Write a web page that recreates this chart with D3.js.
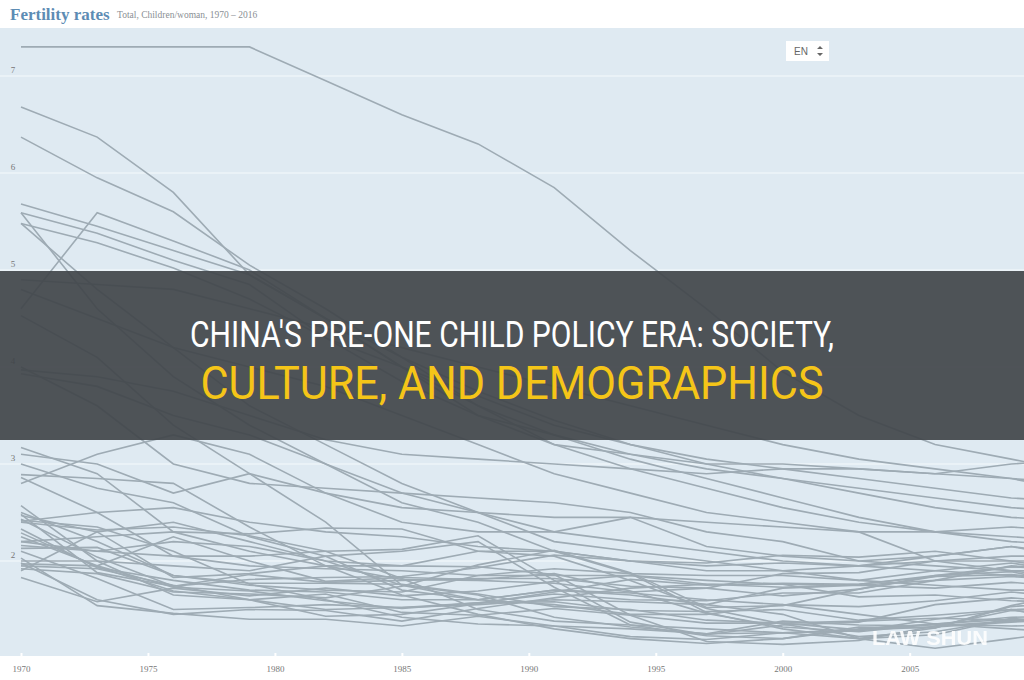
<!DOCTYPE html>
<meta charset="utf-8">
<style>
    body {
        margin: 0;
        background: #fff;
    }

    svg {
        display: block;
    }
</style>
<svg width="1024" height="680"></svg>
<script src="https://d3js.org/d3.v7.min.js"></script>
<script>
    // grid years every 3 years, 1970 -> 2012
    var years = [1970, 1973, 1976, 1979, 1982, 1985, 1988, 1991, 1994, 1997, 2000, 2003, 2006, 2009, 2012];

    var yTicks = [2, 3, 4, 5, 6, 7];
    var xTicks = [1970, 1975, 1980, 1985, 1990, 1995, 2000, 2005];

    // one row per country, children per woman at each grid year
    var s01 = [7.3, 7.3, 7.3, 7.3, 6.95, 6.6, 6.3, 5.85, 5.2, 4.6, 3.95, 3.5, 3.2, 3.05, 2.9];
    var s02 = [6.68, 6.37, 5.8, 4.95, 4.5, 4.0, 3.6, 3.3, 3.05, 2.85, 2.65, 2.45, 2.3, 2.25, 2.2];
    var s03 = [6.37, 5.95, 5.6, 5.05, 4.6, 4.1, 3.6, 3.2, 2.95, 2.75, 2.55, 2.4, 2.3, 2.2, 2.15];
    var s04 = [5.68, 5.45, 5.2, 4.95, 4.5, 4.1, 3.75, 3.45, 3.2, 3.0, 2.85, 2.7, 2.55, 2.45, 2.4];
    var s05 = [5.59, 5.38, 5.1, 4.85, 4.3, 3.85, 3.5, 3.3, 3.1, 3.0, 3.0, 2.95, 2.9, 2.85, 2.8];
    var s06 = [5.48, 5.28, 5.02, 4.7, 4.3, 4.0, 3.7, 3.4, 3.2, 3.05, 2.95, 2.85, 2.75, 2.65, 2.6];
    var s07 = [4.6, 5.59, 5.3, 5.0, 4.5, 4.0, 3.5, 3.2, 3.1, 2.95, 2.85, 2.75, 2.65, 2.55, 2.5];
    var s08 = [5.59, 4.6, 3.9, 3.4, 3.0, 2.7, 2.5, 2.3, 2.2, 2.1, 2.0, 1.95, 1.9, 1.85, 1.8];
    var s09 = [5.48, 4.8, 4.2, 3.6, 3.2, 2.8, 2.5, 2.2, 2.1, 2.0, 1.9, 1.8, 1.75, 1.7, 1.7];
    var s10 = [4.53, 4.1, 3.4, 2.9, 2.4, 1.75, 1.6, 1.7, 1.65, 1.55, 1.45, 1.2, 1.1, 1.2, 1.3];
    var s11 = [3.97, 3.9, 3.75, 3.5, 3.25, 3.1, 3.05, 3.0, 2.95, 2.9, 2.95, 2.95, 2.9, 3.0, 3.05];
    var s12 = [3.93, 3.8, 3.5, 3.3, 3.0, 2.6, 2.4, 2.1, 2.0, 1.9, 1.9, 1.95, 2.0, 2.05, 2.05];
    var s13 = [4.0, 3.6, 3.0, 2.8, 2.75, 2.7, 2.65, 2.6, 2.5, 2.3, 2.2, 2.0, 1.95, 1.9, 1.9];
    var s14 = [3.17, 2.9, 2.3, 2.1, 1.95, 1.95, 2.1, 2.1, 2.0, 1.95, 1.98, 1.95, 2.05, 2.15, 2.05];
    var s15 = [3.0, 2.75, 2.6, 2.25, 2.05, 1.7, 1.6, 1.55, 1.45, 1.45, 1.55, 1.45, 1.35, 1.3, 1.25];
    var s16 = [2.89, 2.85, 2.8, 2.35, 1.95, 1.65, 1.45, 1.3, 1.2, 1.15, 1.2, 1.3, 1.35, 1.4, 1.3];
    var s17 = [2.8, 3.1, 3.3, 3.1, 2.7, 2.4, 2.3, 2.3, 2.45, 2.15, 2.05, 2.0, 2.05, 2.15, 2.0];
    var s18 = [2.86, 2.5, 2.05, 1.95, 1.92, 1.9, 1.85, 1.85, 1.85, 1.8, 1.76, 1.75, 1.8, 1.95, 1.9];
    var s19 = [2.57, 2.0, 1.65, 1.6, 1.5, 1.52, 1.55, 1.6, 1.58, 1.55, 1.72, 1.75, 1.72, 1.78, 1.72];
    var s20 = [2.5, 2.2, 1.85, 1.75, 1.7, 1.68, 1.85, 1.92, 1.87, 1.85, 1.85, 1.8, 1.9, 1.98, 1.85];
    var s21 = [2.48, 1.88, 1.74, 1.81, 1.83, 1.84, 1.93, 2.06, 2.0, 1.98, 2.06, 2.04, 2.1, 2.0, 1.88];
    var s22 = [2.47, 2.3, 1.83, 1.87, 1.95, 1.81, 1.8, 1.77, 1.68, 1.72, 1.87, 1.88, 2.0, 2.0, 2.0];
    var s23 = [2.43, 2.04, 1.74, 1.86, 1.78, 1.8, 1.82, 1.82, 1.74, 1.72, 1.64, 1.71, 1.84, 1.94, 1.92];
    var s24 = [2.42, 2.35, 2.1, 1.76, 1.6, 1.42, 1.35, 1.33, 1.22, 1.19, 1.26, 1.29, 1.35, 1.42, 1.43];
    var s25 = [2.4, 2.32, 2.35, 2.26, 2.1, 1.82, 1.5, 1.38, 1.34, 1.3, 1.26, 1.28, 1.4, 1.5, 1.34];
    var s26 = [2.33, 1.93, 1.8, 1.7, 1.68, 1.6, 1.6, 1.7, 1.67, 1.6, 1.55, 1.53, 1.59, 1.68, 1.61];
    var s27 = [2.29, 1.94, 1.69, 1.6, 1.66, 1.47, 1.44, 1.51, 1.44, 1.36, 1.36, 1.38, 1.41, 1.39, 1.44];
    var s28 = [2.25, 1.95, 1.73, 1.69, 1.59, 1.51, 1.57, 1.66, 1.6, 1.59, 1.67, 1.67, 1.8, 1.84, 1.79];
    var s29 = [2.2, 2.25, 2.3, 2.28, 2.34, 2.33, 2.1, 2.05, 1.8, 1.51, 1.35, 1.22, 1.27, 1.4, 1.3];
    var s30 = [2.16, 2.1, 2.05, 2.05, 2.1, 2.12, 2.26, 1.8, 1.37, 1.24, 1.34, 1.37, 1.55, 1.62, 1.56];
    var s31 = [2.2, 2.1, 2.2, 2.15, 2.0, 1.75, 1.65, 1.42, 1.32, 1.25, 1.26, 1.2, 1.31, 1.53, 1.58];
    var s32 = [2.13, 2.14, 1.85, 1.77, 1.77, 1.76, 1.66, 1.53, 1.5, 1.39, 1.36, 1.29, 1.32, 1.37, 1.41];
    var s33 = [2.1, 1.82, 1.5, 1.52, 1.55, 1.52, 1.57, 1.58, 1.49, 1.48, 1.5, 1.39, 1.44, 1.5, 1.52];
    var s34 = [2.03, 1.54, 1.46, 1.4, 1.4, 1.33, 1.43, 1.33, 1.3, 1.25, 1.38, 1.34, 1.33, 1.38, 1.4];
    var s35 = [1.98, 1.6, 1.45, 1.5, 1.49, 1.38, 1.51, 1.62, 1.72, 1.76, 1.76, 1.63, 1.65, 1.59, 1.57];
    var s36 = [1.97, 1.95, 2.25, 2.0, 1.79, 1.83, 1.81, 1.87, 1.69, 1.46, 1.32, 1.27, 1.35, 1.33, 1.34];
    var s37 = [1.95, 1.92, 1.75, 1.6, 1.43, 1.45, 1.56, 1.68, 1.81, 1.75, 1.77, 1.76, 1.85, 1.89, 1.73];
    var s38 = [1.92, 1.87, 1.68, 1.66, 1.62, 1.74, 1.96, 2.11, 1.88, 1.52, 1.54, 1.71, 1.85, 1.94, 1.91];
    var s39 = [1.9, 2.3, 2.4, 2.2, 2.0, 1.95, 1.94, 1.86, 1.44, 1.17, 1.14, 1.18, 1.33, 1.49, 1.45];
    var s40 = [1.83, 1.58, 1.72, 1.64, 1.72, 1.64, 1.69, 1.79, 1.85, 1.76, 1.73, 1.76, 1.84, 1.86, 1.8];
    var s41 = [2.41, 2.5, 2.55, 2.4, 2.3, 2.25, 2.15, 2.1, 1.87, 1.47, 1.3, 1.2, 1.24, 1.41, 1.34];
    var s42 = [2.0, 2.0, 1.95, 1.9, 2.05, 2.1, 2.2, 1.73, 1.34, 1.23, 1.2, 1.32, 1.31, 1.54, 1.7];
    var s43 = [4.8, 4.5, 4.2, 4.0, 3.8, 3.5, 3.2, 2.9, 2.7, 2.5, 2.4, 2.3, 2.0, 1.9, 1.8];
    var s44 = [4.9, 4.85, 4.8, 4.6, 4.4, 4.2, 4.0, 3.8, 3.6, 3.4, 3.2, 3.05, 2.95, 2.85, 2.7];
    var s45 = [3.1, 3.0, 2.7, 2.9, 2.7, 2.55, 2.5, 2.45, 2.45, 2.4, 2.35, 2.3, 2.3, 2.35, 2.3];

    var series = [s01, s02, s03, s04, s05, s06, s07, s08, s09, s10, s11, s12, s13, s14, s15,
        s16, s17, s18, s19, s20, s21, s22, s23, s24, s25, s26, s27, s28, s29, s30,
        s31, s32, s33, s34, s35, s36, s37, s38, s39, s40, s41, s42, s43, s44, s45];

    var svg = d3.select("svg"),
        width = +svg.attr("width"),
        height = +svg.attr("height");

    var plotTop = 28,
        plotBottom = 656;

    var x = d3.scaleLinear().domain([1970, 2016]).range([21, 1189]);
    var y = d3.scaleLinear().domain([1, 7.5]).range([658, 27.5]);

    // header
    svg.append("text")
        .attr("x", 10)
        .attr("y", 20)
        .style("font-family", "Liberation Serif")
        .style("font-weight", "bold")
        .style("font-size", "17px")
        .style("fill", "#5d8cb4")
        .text("Fertility rates");

    svg.append("text")
        .attr("x", 117)
        .attr("y", 18)
        .style("font-family", "Liberation Serif")
        .style("font-size", "9.5px")
        .style("fill", "#8a8f94")
        .text("Total, Children/woman, 1970 \u2013 2016");

    // plot area
    svg.append("rect")
        .attr("x", 0)
        .attr("y", plotTop)
        .attr("width", width)
        .attr("height", plotBottom - plotTop)
        .style("fill", "#dfeaf2");

    svg.append("defs").append("clipPath")
        .attr("id", "clip")
        .append("rect")
        .attr("x", 0)
        .attr("y", plotTop)
        .attr("width", width)
        .attr("height", plotBottom - plotTop);

    svg.append("g")
        .selectAll("line")
        .data(yTicks)
        .enter().append("line")
        .attr("x1", 0)
        .attr("x2", width)
        .attr("y1", function (d) { return y(d); })
        .attr("y2", function (d) { return y(d); })
        .style("stroke", "#eef4f8")
        .style("stroke-width", 1.5);

    svg.append("g")
        .selectAll("text")
        .data(yTicks)
        .enter().append("text")
        .attr("x", 13)
        .attr("y", function (d) { return y(d) - 3; })
        .attr("text-anchor", "middle")
        .style("font-family", "Liberation Serif")
        .style("font-size", "9px")
        .style("fill", "#777")
        .text(function (d) { return d; });

    var line = d3.line()
        .x(function (d, i) { return x(years[i]); })
        .y(function (d) { return y(d); });

    svg.append("g")
        .attr("clip-path", "url(#clip)")
        .style("filter", "blur(0.4px)")
        .selectAll("path")
        .data(series)
        .enter().append("path")
        .attr("d", line)
        .style("fill", "none")
        .style("stroke", "#9eabb4")
        .style("stroke-width", 1.6);

    // x axis
    var xAxis = svg.append("g")
        .attr("transform", "translate(0," + plotBottom + ")")
        .call(d3.axisBottom(x).tickValues(xTicks).tickFormat(d3.format("d")).tickSize(3));
    xAxis.select(".domain").remove();
    xAxis.selectAll(".tick line")
        .attr("y1", -3)
        .attr("y2", 0)
        .style("stroke", "#fff")
        .style("stroke-width", 2);
    xAxis.selectAll(".tick text")
        .attr("y", 10)
        .style("font-family", "Liberation Serif")
        .style("font-size", "9px")
        .style("fill", "#777");

    // language picker
    var lang = svg.append("g").attr("transform", "translate(786,41)");
    lang.append("rect")
        .attr("width", 43)
        .attr("height", 20)
        .style("fill", "#fff");
    lang.append("text")
        .attr("x", 8)
        .attr("y", 14)
        .style("font-family", "Liberation Sans")
        .style("font-size", "10px")
        .style("fill", "#666")
        .text("EN");
    lang.append("path")
        .attr("d", "M31,8 l3,-3 l3,3 Z M31,12 l3,3 l3,-3 Z")
        .style("fill", "#666");

    // banner
    svg.append("rect")
        .attr("x", 0)
        .attr("y", 271)
        .attr("width", width)
        .attr("height", 169)
        .style("fill", "#41454a")
        .style("opacity", 0.92);

    svg.append("text")
        .attr("x", 512)
        .attr("y", 347)
        .attr("text-anchor", "middle")
        .attr("textLength", 644)
        .attr("lengthAdjust", "spacingAndGlyphs")
        .style("font-family", "Roboto")
        .style("font-size", "36px")
        .style("fill", "#ffffff")
        .text("CHINA'S PRE-ONE CHILD POLICY ERA: SOCIETY,");

    svg.append("text")
        .attr("x", 512)
        .attr("y", 399)
        .attr("text-anchor", "middle")
        .attr("textLength", 623)
        .attr("lengthAdjust", "spacingAndGlyphs")
        .style("font-family", "Roboto")
        .style("font-size", "47px")
        .style("fill", "#f5c518")
        .text("CULTURE, AND DEMOGRAPHICS");

    svg.append("text")
        .attr("x", 930)
        .attr("y", 645)
        .attr("text-anchor", "middle")
        .attr("textLength", 116)
        .attr("lengthAdjust", "spacingAndGlyphs")
        .style("font-family", "Liberation Sans")
        .style("font-weight", "bold")
        .style("font-size", "21px")
        .style("fill", "#ffffff")
        .style("opacity", 0.9)
        .text("LAW SHUN");
</script>
